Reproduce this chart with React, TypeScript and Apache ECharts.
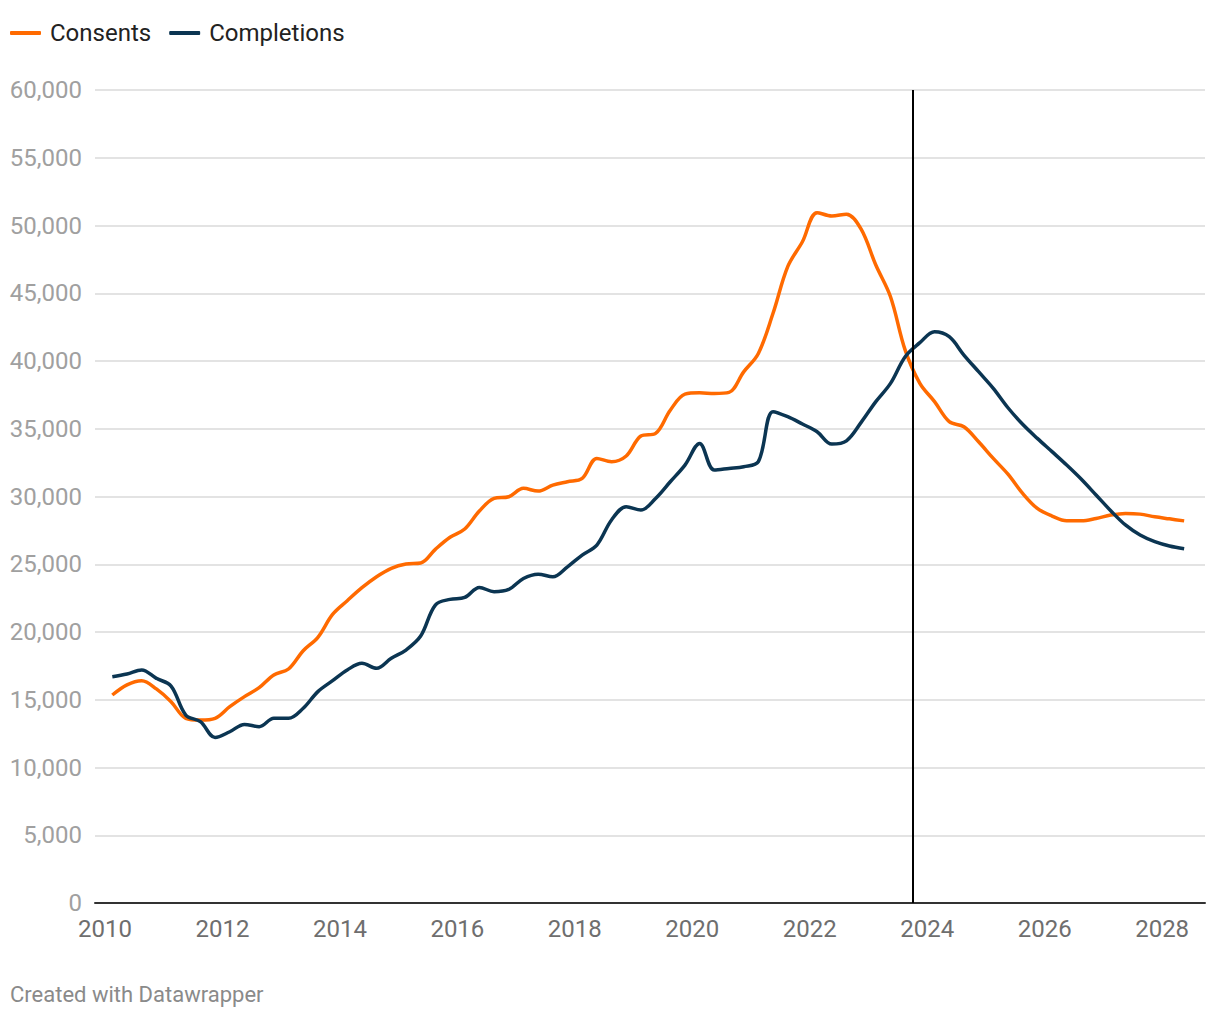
import React, { useEffect, useRef } from "react";
import * as echarts from "echarts";

// Quarterly series, first point = 2010 Q1, last point = 2028 Q2
const START_YEAR = 2010;
const seriesNames = ["Consents", "Completions"];

const consents = [
  15350, 16100, 16400, 15800, 14860, 13630, 13500, 13630,
  14490, 15230, 15890, 16830, 17270, 18620, 19610, 21300,
  22310, 23270, 24080, 24700, 25020, 25090, 26100, 26990,
  27600, 28930, 29860, 29980, 30600, 30400, 30840, 31090,
  31330, 32810, 32570, 32990, 34470, 34660, 36370, 37550,
  37650, 37600, 37680, 39200, 40560, 43520, 46960, 48800,
  50950, 50700, 50830, 49730, 47080, 44740, 40800, 38350,
  37000, 35520, 35150, 34040, 32810, 31650, 30230, 29120,
  28560, 28210, 28210, 28380, 28630, 28750, 28700, 28500,
  28350, 28200,
];

const completions = [
  16700, 16900, 17200, 16580, 16010, 13870, 13380, 12220,
  12640, 13180, 13010, 13630, 13630, 14370, 15600, 16410,
  17200, 17690, 17320, 18060, 18670, 19700, 21990, 22410,
  22550, 23290, 22970, 23140, 23950, 24270, 24070, 24810,
  25680, 26420, 28270, 29250, 29000, 29860, 31090, 32320,
  33920, 31950, 32070, 32200, 32570, 36260, 35890, 35350,
  34780, 33870, 34110, 35470, 37000, 38350, 40320, 41350,
  42160, 41790, 40440, 39210, 37980, 36550, 35330, 34290,
  33310, 32320, 31270, 30110, 28950, 27900, 27160, 26670,
  26350, 26150,
];

const xTickYears = [2010, 2012, 2014, 2016, 2018, 2020, 2022, 2024, 2026, 2028];
const yMin = 0;
const yMax = 60000;
const yStep = 5000;
const forecastStart = 2023.75;
const xMin = 2009.83;
const xMax = 2028.73;

const quarterTime = (i: number) => START_YEAR + 0.125 + 0.25 * i;

export default function App() {
  const ref = useRef<HTMLDivElement>(null);

  useEffect(() => {
    if (!ref.current) return;
    const chart = echarts.init(ref.current, undefined, { renderer: "svg" });
    const font = "Roboto";
    chart.setOption({
      animation: false,
      backgroundColor: "#ffffff",
      textStyle: { fontFamily: font },
      legend: {
        data: seriesNames,
        left: 5,
        top: 16,
        icon: "roundRect",
        itemWidth: 31,
        itemHeight: 4,
        itemGap: 18,
        textStyle: { fontSize: 24, color: "#222222", fontFamily: font, padding: [0, 0, 0, 4] },
      },
      grid: { left: 95, right: 15, top: 90, bottom: 117, containLabel: false },
      xAxis: {
        type: "value",
        min: xMin,
        max: xMax,
        axisLine: { show: true, onZero: true, lineStyle: { color: "#333333", width: 2 } },
        axisTick: { show: false },
        splitLine: { show: false },
        axisLabel: {
          customValues: xTickYears,
          color: "#6e6e6e",
          fontSize: 24,
          fontFamily: font,
          margin: 14,
          formatter: (v: number) => String(Math.round(v)),
        },
      },
      yAxis: {
        type: "value",
        min: yMin,
        max: yMax,
        interval: yStep,
        axisLine: { show: false },
        axisTick: { show: false },
        splitLine: { show: true, lineStyle: { color: "#e3e3e3", width: 2 } },
        axisLabel: {
          color: "#a0a0a0",
          fontSize: 24,
          fontFamily: font,
          margin: 13,
          formatter: (v: number) => v.toLocaleString("en-US"),
        },
      },
      series: [
        {
          name: seriesNames[0],
          type: "line",
          data: consents.map((v, i) => [quarterTime(i), v]),
          showSymbol: false,
          smooth: 0.35,
          lineStyle: { color: "#ff6a00", width: 3.5 },
          itemStyle: { color: "#ff6a00" },
          z: 3,
          markLine: {
            silent: true,
            symbol: ["none", "none"],
            label: { show: false },
            lineStyle: { color: "#000000", width: 2, type: "solid" },
            data: [{ xAxis: forecastStart }],
          },
        },
        {
          name: seriesNames[1],
          type: "line",
          data: completions.map((v, i) => [quarterTime(i), v]),
          showSymbol: false,
          smooth: 0.35,
          lineStyle: { color: "#0b3552", width: 3.5 },
          itemStyle: { color: "#0b3552" },
          z: 4,
        },
      ],
      graphic: [
        {
          type: "text",
          left: 10,
          top: 983,
          style: { text: "Created with Datawrapper", fill: "#8a8a8a", font: `22px ${font}` },
        },
      ],
    });
    return () => chart.dispose();
  }, []);

  return (
    <div
      ref={ref}
      style={{ position: "fixed", left: 0, top: 0, width: 1220, height: 1020, background: "#fff" }}
    />
  );
}
